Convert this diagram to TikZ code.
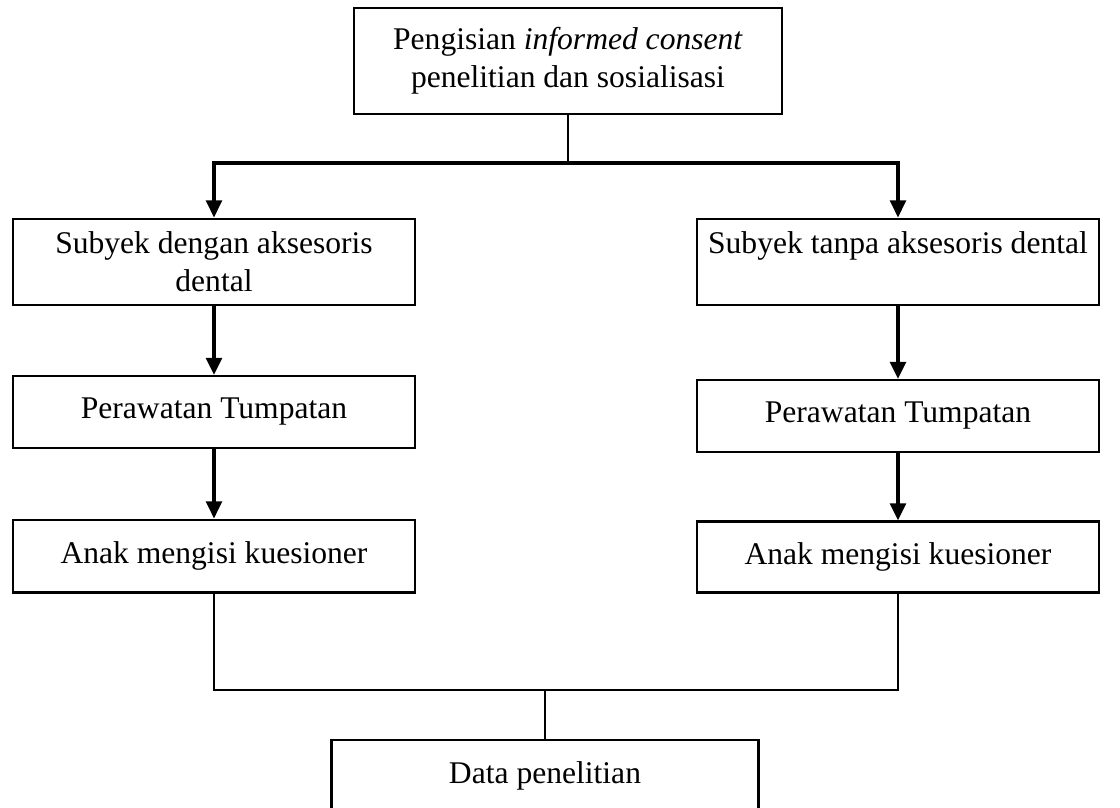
\documentclass[tikz,border=0pt]{standalone}
\usepackage{fontspec}
\setmainfont{Liberation Serif}
\usetikzlibrary{arrows.meta}

\begin{document}
\begin{tikzpicture}
[x=0.38pt, y=-0.38pt, font=\fontsize{12}{14.5}\selectfont]
\tikzstyle{box}=[rectangle, draw, line width=0.8pt, align=center, inner sep=2pt]
\tikzstyle{sidebox}=[box, minimum width=152.5pt]
\tikzstyle{arrow}=[line width=1.2pt, -{Triangle[length=6.5pt, width=6pt]}]
\tikzstyle{link}=[line width=0.7pt]

\useasboundingbox (0,0) rectangle (1120,808);

\node[box, minimum width=162.6pt, minimum height=40.3pt] (consent) at (568,61) {Pengisian \textit{informed consent}\\penelitian dan sosialisasi};

\node[sidebox, minimum height=33pt]   (L1) at (214,262) {Subyek dengan aksesoris\\dental};
\node[sidebox, minimum height=27.4pt] (L2) at (214,412) {Perawatan Tumpatan};
\node[sidebox, minimum height=27.7pt] (L3) at (214,556) {Anak mengisi kuesioner};

\node[sidebox, minimum height=33pt]   (R1) at (898,262) {Subyek tanpa aksesoris dental\\\mbox{}};
\node[sidebox, minimum height=27.4pt] (R2) at (898,416) {Perawatan Tumpatan};
\node[sidebox, minimum height=27pt]   (R3) at (898,557) {Anak mengisi kuesioner};

\node[box, minimum width=162.3pt, minimum height=27.4pt] (data) at (545,776) {Data penelitian};

\coordinate (split) at (568,163);
\coordinate (merge) at (545,690);

\draw[link]  (consent.south)--(split);
\draw[arrow] (split) -| (L1.north);
\draw[arrow] (split) -| (R1.north);
\draw[arrow] (L1)--(L2);
\draw[arrow] (L2)--(L3);
\draw[arrow] (R1)--(R2);
\draw[arrow] (R2)--(R3);
\draw[link]  (L3.south)--(L3.south |- merge)--(R3.south |- merge)--(R3.south);
\draw[link]  (merge)--(data.north);
\end{tikzpicture}
\end{document}
